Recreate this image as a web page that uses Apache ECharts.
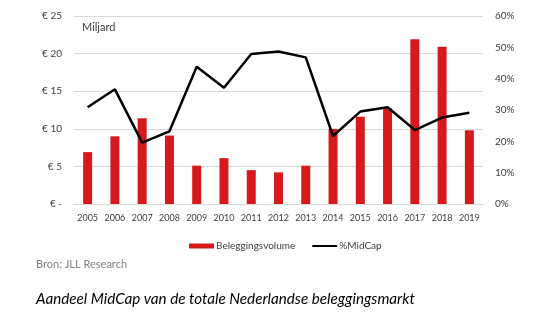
<!DOCTYPE html>
<html><head><meta charset="utf-8">
<script src="https://cdn.jsdelivr.net/npm/echarts@6/dist/echarts.min.js"></script>
<style>html,body{margin:0;padding:0;background:#fff}#c{width:540px;height:324px}</style>
</head><body><div id="c"></div>
<script>
const years = ['2005','2006','2007','2008','2009','2010','2011','2012','2013','2014','2015','2016','2017','2018','2019'];
const volume = [6.9, 9.0, 11.4, 9.1, 5.1, 6.1, 4.5, 4.2, 5.1, 10.0, 11.6, 12.7, 21.9, 20.9, 9.8];
const midcapPct = [30.9, 36.6, 19.6, 23.2, 43.8, 37.1, 47.9, 48.7, 46.8, 21.7, 29.5, 30.9, 23.6, 27.6, 29.1];
const FONT = 'Lato';
const chart = echarts.init(document.getElementById('c'), null, {renderer: 'canvas'});
chart.setOption({
  animation: false,
  textStyle: {fontFamily: FONT},
  grid: {left: 74, right: 57, top: 16, bottom: 120},
  legend: {
    top: 236, left: 184,
    itemGap: 16, itemWidth: 25, itemHeight: 5,
    textStyle: {fontFamily: FONT, fontSize: 10, color: '#404040', padding: [0, 0, 0, -3]},
    data: [
      {name: 'Beleggingsvolume', icon: 'rect'},
      {name: '%MidCap', itemStyle: {opacity: 0}}
    ]
  },
  graphic: [
    {type: 'text', left: 82, top: 22, style: {text: 'Miljard', fontFamily: FONT, fontSize: 11, fill: '#404040'}},
    {type: 'text', left: 36, top: 259, style: {text: 'Bron: JLL Research', fontFamily: FONT, fontSize: 11, fill: '#808080'}},
    {type: 'text', left: 36, top: 292, style: {text: 'Aandeel MidCap van de totale Nederlandse beleggingsmarkt', fontFamily: FONT, fontSize: 15.2, fontStyle: 'italic', fill: '#000'}}
  ],
  xAxis: {
    type: 'category', data: years,
    axisLine: {show: true, lineStyle: {color: '#d9d9d9'}},
    axisTick: {show: false},
    axisLabel: {fontSize: 9, color: '#404040', margin: 10, interval: 0}
  },
  yAxis: [
    {
      type: 'value', min: 0, max: 25, interval: 5,
      axisLine: {show: false}, axisTick: {show: false},
      splitLine: {lineStyle: {color: '#d9d9d9'}},
      axisLabel: {fontSize: 10, color: '#404040', margin: 12,
        formatter: v => v === 0 ? '€ -' : '€ ' + v}
    },
    {
      type: 'value', min: 0, max: 60, interval: 10,
      axisLine: {show: false}, axisTick: {show: false},
      splitLine: {show: false},
      axisLabel: {fontSize: 10, color: '#404040', margin: 12, formatter: '{value}%'}
    }
  ],
  series: [
    {name: 'Beleggingsvolume', type: 'bar', data: volume, barWidth: 9,
      itemStyle: {color: '#d7191c'}},
    {name: '%MidCap', type: 'line', yAxisIndex: 1, data: midcapPct,
      symbol: 'none', lineStyle: {color: '#000', width: 2.5}, itemStyle: {color: '#000'}, z: 3}
  ]
});
</script></body></html>
